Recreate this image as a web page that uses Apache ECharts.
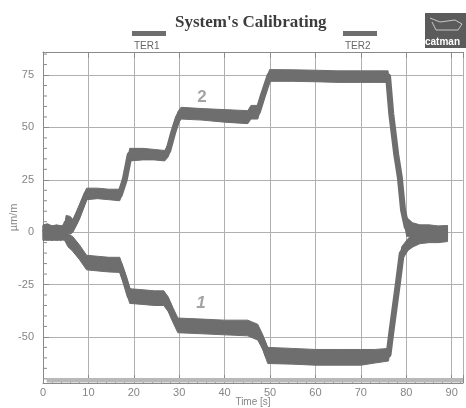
<!DOCTYPE html>
<html><head><meta charset="utf-8">
<script src="https://cdn.jsdelivr.net/npm/echarts@6/dist/echarts.min.js"></script>
<style>html,body{margin:0;padding:0;background:#fff}#c{width:466px;height:408px}</style>
</head><body><div id="c"></div>
<script>
// ---- data ----
const xTickLabels = [0, 10, 20, 30, 40, 50, 60, 70, 80, 90];
const yTickLabels = [-50, -25, 0, 25, 50, 75];
const yMinorTicks = [-70,-65,-60,-55,-45,-40,-35,-30,-20,-15,-10,-5,5,10,15,20,30,35,40,45,55,60,65,70,80,85];

const ter2Time  = [0, 1, 2, 3, 4, 4.8, 5.1, 6.0, 6.6, 8, 9.6, 12, 14.5, 16.9, 18.0, 19.1, 22, 24.5, 26.8, 27.6, 28.6, 29.7, 30.4, 35, 40, 45.1, 45.8, 47.3, 48.4, 49.9, 55, 60, 65, 70, 73, 76.0, 76.7, 77.8, 78.6, 79.3, 80.1, 81.4, 83, 85, 87, 89.1];
const ter2Upper = [3.5, 4, 3, 3.5, 3, 4, 8, 7.5, 6, 13, 21, 21, 20.5, 20.5, 28, 40, 40, 39.5, 39, 42, 50, 57.5, 59.6, 59, 58.5, 58, 60.5, 60.5, 68, 77.6, 77.5, 77.3, 77, 77, 77, 77, 60, 40, 29, 14, 7, 4.5, 3.5, 3.5, 3, 3.2];
const ter2Lower = [-4, -3.5, -4, -3.5, -4, -3, 0, -1, 0, 6, 15.5, 16, 15.5, 15, 22, 34, 34.5, 34.5, 34, 36, 44, 51.5, 54, 53.5, 52.5, 51.8, 54, 54, 62, 72, 72, 71.8, 71.5, 71.5, 71.5, 71.5, 53, 34, 23, 7, -2, -2, -2, -2, -2, -2];

const ter1Time  = [0, 1, 2, 3, 4, 4.8, 5.5, 6.5, 8, 9.6, 12, 14.5, 16.9, 18.0, 19.1, 22, 24.5, 26.6, 27.6, 28.6, 29.7, 35, 40, 45.1, 46.2, 47.3, 48.4, 49.5, 55, 60, 65, 70, 73, 76.1, 76.7, 78.2, 79.0, 80.4, 81.5, 83, 85, 87, 89.1];
const ter1Upper = [3, 3.5, 3, 3, 3, 2, -1, -2, -6, -11, -11.5, -12, -12, -19, -27, -27.5, -28, -28, -31, -36, -41, -41.5, -42, -42, -43, -44, -49, -55, -55.5, -56, -56, -56, -56, -55.5, -44.5, -19.7, -7, -3, -1, 0, 0.5, 0, 0.5];
const ter1Lower = [-3.5, -4, -3.5, -4, -3.5, -4, -7, -9, -13, -18, -18.5, -19, -19.2, -26, -34, -34.5, -35, -35, -38, -43, -48, -48.5, -49, -49.5, -50.5, -51.5, -56, -62.7, -63, -63.5, -63.5, -63.5, -62.5, -61.5, -51.7, -27.9, -13.5, -8.7, -7, -5.5, -5, -5, -4.5];

const annotations = [{ text: '2', x: 35, y: 64.5 }, { text: '1', x: 34.8, y: -34 }];

// ---- styling ----
const BAND = '#6e6e6e';
const AXIS = '#8a8a8a';
const GRID = '#b0b0b0';
const LABEL = '#858585';
const X_MIN = 0, X_MAX = 92.5, Y_MIN = -72, Y_MAX = 86;

function bandSeries(name, times, upper, lower) {
  return {
    type: 'custom', name: name, xAxisIndex: 0, yAxisIndex: 0,
    data: times.map((t, i) => [t, lower[i], upper[i]]),
    encode: { x: 0, y: [1, 2] },
    itemStyle: { color: BAND },
    silent: true, z: 3,
    renderItem: function (params, api) {
      if (params.dataIndex !== 0) return null;
      const pts = [];
      for (let i = 0; i < times.length; i++) pts.push(api.coord([times[i], upper[i]]));
      for (let i = times.length - 1; i >= 0; i--) pts.push(api.coord([times[i], lower[i]]));
      return { type: 'polygon', shape: { points: pts }, style: { fill: BAND, stroke: BAND, lineWidth: 1 } };
    }
  };
}
function centerSeries(name, times, upper, lower) {
  return {
    type: 'line', name: name, xAxisIndex: 0, yAxisIndex: 0,
    data: times.map((t, i) => [t, (upper[i] + lower[i]) / 2]),
    symbol: 'none', silent: true, z: 3,
    lineStyle: { color: BAND, width: 6, join: 'round' },
    itemStyle: { color: BAND }
  };
}

const chart = echarts.init(document.getElementById('c'), null, { renderer: 'canvas' });
chart.setOption({
  animation: false,
  backgroundColor: '#fff',
  title: {
    text: "System's Calibrating", left: 170, top: 9,
    textStyle: { fontFamily: 'Liberation Serif', fontSize: 17, fontWeight: 'bold', color: '#3c3c3c' }
  },
  legend: [
    { data: ['TER1'], left: 132, top: 31, itemWidth: 34, itemHeight: 5, icon: 'rect', formatter: () => '', selectedMode: false, padding: 0 },
    { data: ['TER2'], left: 343, top: 31, itemWidth: 34, itemHeight: 5, icon: 'rect', formatter: () => '', selectedMode: false, padding: 0 }
  ],
  grid: { left: 43, right: 3, top: 52, bottom: 25, containLabel: false, outerBoundsMode: 'none' },
  xAxis: [
    {
      type: 'value', min: X_MIN, max: X_MAX, interval: 10, position: 'bottom',
      name: 'Time [s]', nameLocation: 'middle', nameGap: 14, nameMoveOverlap: false,
      nameTextStyle: { color: LABEL, fontSize: 10, fontFamily: 'Liberation Sans' },
      axisLine: { show: true, onZero: false, lineStyle: { color: AXIS } },
      axisTick: { show: true, inside: true, length: 8, lineStyle: { color: AXIS } },
      axisLabel: { color: LABEL, fontSize: 11, margin: 4, fontFamily: 'Liberation Sans',
        formatter: v => (xTickLabels.indexOf(v) >= 0 ? String(v) : '') },
      splitLine: { show: true, lineStyle: { color: GRID, width: 1 } }
    },
    {
      type: 'value', min: X_MIN, max: X_MAX, interval: 2, position: 'bottom',
      axisLine: { show: false, onZero: false }, axisLabel: { show: false }, splitLine: { show: false },
      axisTick: { show: true, inside: true, length: 5, lineStyle: { color: AXIS } }
    },
    {
      type: 'value', min: X_MIN, max: X_MAX, interval: 10, position: 'top',
      axisLine: { show: true, onZero: false, lineStyle: { color: AXIS } }, axisLabel: { show: false }, splitLine: { show: false },
      axisTick: { show: true, inside: true, length: 6, lineStyle: { color: AXIS } }
    }
  ],
  yAxis: [
    {
      type: 'value', min: Y_MIN, max: Y_MAX, position: 'left',
      name: 'µm/m', nameLocation: 'middle', nameGap: 24, nameRotate: 90, nameMoveOverlap: false,
      nameTextStyle: { color: LABEL, fontSize: 11, fontFamily: 'Liberation Sans' },
      axisLine: { show: true, onZero: false, lineStyle: { color: AXIS } },
      axisTick: { show: true, inside: true, length: 6, customValues: yTickLabels, lineStyle: { color: AXIS } },
      axisLabel: { color: LABEL, fontSize: 11, margin: 9, fontFamily: 'Liberation Sans', customValues: yTickLabels },
      splitLine: { show: true, lineStyle: { color: GRID, width: 1 } }
    }
  ],
  series: [
    {
      // minor ticks on the left axis, every 5 units
      type: 'custom', name: 'yMinor', xAxisIndex: 0, yAxisIndex: 0, silent: true, z: 4,
      data: yMinorTicks.map(v => [X_MIN, v]),
      encode: { x: 0, y: 1 },
      renderItem: function (params, api) {
        const p = api.coord([api.value(0), api.value(1)]);
        return { type: 'line', shape: { x1: p[0], y1: p[1], x2: p[0] + 4, y2: p[1] }, style: { stroke: AXIS, lineWidth: 1 } };
      }
    },
    bandSeries('TER1', ter1Time, ter1Upper, ter1Lower),
    bandSeries('TER2', ter2Time, ter2Upper, ter2Lower),
    centerSeries('TER1 centre', ter1Time, ter1Upper, ter1Lower),
    Object.assign(centerSeries('TER2 centre', ter2Time, ter2Upper, ter2Lower), {
      markArea: {
        silent: true,
        itemStyle: { color: '#b9b9b9' },
        data: [[{ xAxis: 0.8, yAxis: -71.8 }, { xAxis: X_MAX, yAxis: -69.6 }]]
      }
    }),
    {
      type: 'scatter', name: 'notes', xAxisIndex: 0, yAxisIndex: 0, silent: true, z: 5,
      symbolSize: 0,
      data: annotations.map(a => ({ value: [a.x, a.y], label: { formatter: a.text, fontStyle: a.text === '1' ? 'italic' : 'normal' } })),
      label: { show: true, position: 'inside', color: '#8c8c8c', fontSize: 17, fontWeight: 'bold', fontFamily: 'Liberation Sans' }
    }
  ],
  graphic: [
    { type: 'text', left: 134, top: 41, style: { text: 'TER1', fill: '#666', font: '10px "Liberation Sans"' } },
    { type: 'text', left: 345, top: 41, style: { text: 'TER2', fill: '#666', font: '10px "Liberation Sans"' } },
    { type: 'rect', left: 425, top: 13, shape: { width: 41, height: 35 }, style: { fill: '#5b5b5b' } },
    { type: 'polyline', shape: { points: [[430, 18], [440, 22], [455, 20], [462, 24], [458, 30], [436, 30], [432, 22]] }, style: { stroke: '#c8c8c8', fill: null, lineWidth: 1 } },
    { type: 'text', left: 425, top: 37, style: { text: 'catman', fill: '#fff', font: 'bold 10px "Liberation Sans"' } }
  ]
});
</script>
</body></html>
